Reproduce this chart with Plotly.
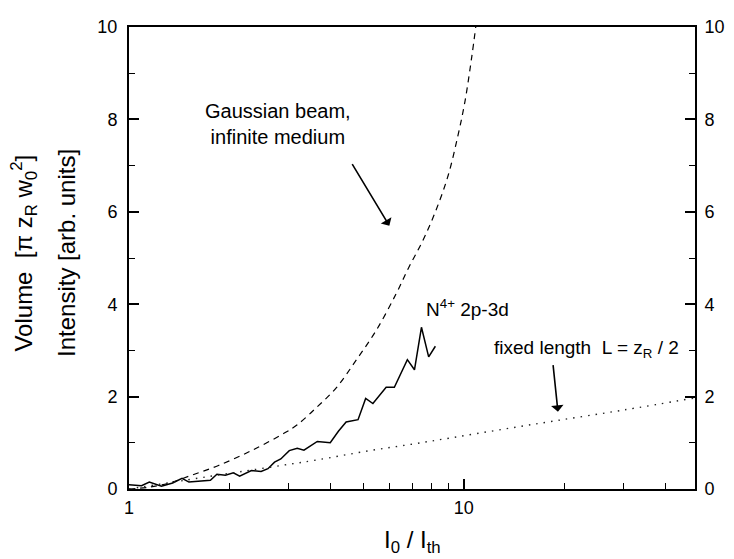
import numpy as np
import plotly.graph_objects as go

# ---- data ----
ratio_gauss = [1.00, 1.15, 1.32, 1.54, 1.85, 2.32, 2.91, 3.18, 3.65, 4.17, 4.78,
               5.47, 6.27, 6.84, 7.52, 8.22, 8.97, 9.60, 10.07, 10.56, 10.85]
vol_gauss = [0.00, 0.04, 0.13, 0.30, 0.51, 0.83, 1.21, 1.39, 1.78, 2.20, 2.80,
             3.43, 4.22, 4.79, 5.36, 6.00, 6.78, 7.65, 8.38, 9.36, 10.0]

ratio_n4 = [1.00, 1.09, 1.15, 1.25, 1.35, 1.44, 1.51, 1.62, 1.75, 1.83, 1.94,
            2.05, 2.14, 2.32, 2.48, 2.60, 2.72, 2.84, 3.01, 3.18, 3.33, 3.65,
            3.99, 4.22, 4.45, 4.83, 5.09, 5.35, 5.86, 6.20, 6.53, 6.78, 7.12,
            7.47, 7.85, 8.22]
int_n4 = [0.09, 0.07, 0.15, 0.06, 0.13, 0.23, 0.15, 0.17, 0.19, 0.32, 0.30,
          0.35, 0.28, 0.40, 0.38, 0.44, 0.58, 0.65, 0.83, 0.88, 0.84, 1.03,
          1.00, 1.25, 1.45, 1.50, 1.96, 1.85, 2.20, 2.20, 2.56, 2.80, 2.58,
          3.50, 2.86, 3.09]

ratio_fixed = [1.0, 1.5, 2.0, 2.32, 2.91, 3.65, 5.23, 7.0, 9.2, 13.0, 18.9, 30.0, 48.8]
vol_fixed = [0.0, 0.20, 0.34, 0.41, 0.52, 0.63, 0.83, 0.97, 1.11, 1.29, 1.48, 1.71, 1.97]

x_tickvals = [1, 10]
x_ticktext = ["1", "10"]
x_minor_vals = [2, 3, 4, 5, 6, 7, 8, 9, 20, 30, 40]
y_tickvals = [0, 2, 4, 6, 8, 10]
x_max = 49

FONT = "Arial, Liberation Sans, Helvetica, sans-serif"

# the page body has a default 8px margin; size the figure so it fits the window
PAGE_OFF = 8
FIG_W, FIG_H = 734 - PAGE_OFF, 559 - PAGE_OFF
PLOT_L, PLOT_R, PLOT_T, PLOT_B = 129, 703, 17, 489   # target window pixels

fig = go.Figure()
fig.add_trace(go.Scatter(x=ratio_gauss, y=vol_gauss, mode="lines",
                         line=dict(color="black", width=1.2, dash="6px,5px", shape="spline"),
                         showlegend=False, hoverinfo="skip"))
fig.add_trace(go.Scatter(x=ratio_n4, y=int_n4, mode="lines",
                         line=dict(color="black", width=1.5),
                         showlegend=False, hoverinfo="skip"))
fig.add_trace(go.Scatter(x=ratio_fixed, y=vol_fixed, mode="lines",
                         line=dict(color="#222", width=1.4, dash="1.5px,6px", shape="spline"),
                         showlegend=False, hoverinfo="skip"))
# invisible trace to activate the right-hand axis
fig.add_trace(go.Scatter(x=ratio_fixed, y=vol_fixed, mode="lines", yaxis="y2",
                         opacity=0, showlegend=False, hoverinfo="skip"))


def yaxis_style(standoff, fsize):
    return dict(
        range=[0, 10], tickvals=y_tickvals, ticks="inside", ticklen=10, tickwidth=1.5,
        tickcolor="black", showline=True, linewidth=2, linecolor="black",
        showgrid=False, zeroline=False, tickfont=dict(size=fsize, color="black", family=FONT),
        minor=dict(dtick=1, ticks="inside", ticklen=6, tickwidth=1.2, tickcolor="black", showgrid=False),
        ticklabelstandoff=standoff,
    )


fig.update_layout(
    width=FIG_W, height=FIG_H,
    margin=dict(l=PLOT_L - PAGE_OFF, r=FIG_W - (PLOT_R - PAGE_OFF),
                t=PLOT_T - PAGE_OFF, b=FIG_H - (PLOT_B - PAGE_OFF), pad=0),
    paper_bgcolor="white", plot_bgcolor="white",
    font=dict(family=FONT, color="black"),
    xaxis=dict(
        type="log", range=[0, np.log10(x_max)], tickvals=x_tickvals, ticktext=x_ticktext,
        ticks="inside", ticklen=10, tickwidth=1.5, tickcolor="black",
        showline=True, linewidth=2, linecolor="black", mirror=True,
        showgrid=False, zeroline=False, tickfont=dict(size=18, color="black", family=FONT),
        minor=dict(tickvals=x_minor_vals, ticks="inside", ticklen=6, tickwidth=1.2,
                   tickcolor="black", showgrid=False),
        ticklabelstandoff=1,
    ),
    yaxis=dict(**yaxis_style(6, 18), mirror=True),
    yaxis2=dict(**yaxis_style(4, 18), overlaying="y", side="right", anchor="x"),
)

W = PLOT_R - PLOT_L
H = PLOT_B - PLOT_T
DEC = W / np.log10(x_max)   # pixels per decade
UNIT = H / 10.0             # pixels per y unit

ann = []
# axis titles
ann.append(dict(text="Volume  [π z<sub>R</sub> w<sub>0</sub><sup>2</sup>]", xref="paper", yref="paper",
                x=(23 - PLOT_L) / W, y=(PLOT_B - 248) / H, textangle=-90, showarrow=False,
                font=dict(size=24, family=FONT), xanchor="center", yanchor="middle"))
ann.append(dict(text="Intensity [arb. units]", xref="paper", yref="paper",
                x=(65 - PLOT_L) / W, y=(PLOT_B - 248) / H, textangle=-90, showarrow=False,
                font=dict(size=24, family=FONT), xanchor="center", yanchor="middle"))
ann.append(dict(text="I<sub>0</sub> / I<sub>th</sub>", xref="paper", yref="paper",
                x=0.5, y=(PLOT_B - 543) / H, showarrow=False,
                font=dict(size=24, family=FONT), xanchor="center", yanchor="middle"))
# text labels
ann.append(dict(text="Gaussian beam,<br>infinite medium", xref="x", yref="y",
                x=(280 - PLOT_L) / DEC, y=(PLOT_B - 116) / UNIT, showarrow=False,
                font=dict(size=20, family=FONT), xanchor="center", yanchor="middle"))
ann.append(dict(text="N<sup>4+</sup> 2p-3d", xref="x", yref="y",
                x=(428 - PLOT_L) / DEC, y=(PLOT_B - 304) / UNIT, showarrow=False,
                font=dict(size=19, family=FONT), xanchor="left", yanchor="middle"))
ann.append(dict(text="fixed length  L = z<sub>R</sub> / 2", xref="x", yref="y",
                x=(497 - PLOT_L) / DEC, y=(PLOT_B - 346) / UNIT, showarrow=False,
                font=dict(size=19, family=FONT), xanchor="left", yanchor="middle"))
# arrows
ann.append(dict(text="", xref="x", yref="y", x=(393 - PLOT_L) / DEC, y=(PLOT_B - 220) / UNIT,
                ax=-38, ay=-63, showarrow=True, arrowhead=1, arrowsize=1.3, arrowwidth=1.6,
                arrowcolor="black", standoff=0))
ann.append(dict(text="", xref="x", yref="y", x=(564 - PLOT_L) / DEC, y=(PLOT_B - 410) / UNIT,
                ax=-5, ay=-48, showarrow=True, arrowhead=1, arrowsize=1.3, arrowwidth=1.6,
                arrowcolor="black", standoff=0))
fig.update_layout(annotations=ann)

fig.write_html("out.html")
